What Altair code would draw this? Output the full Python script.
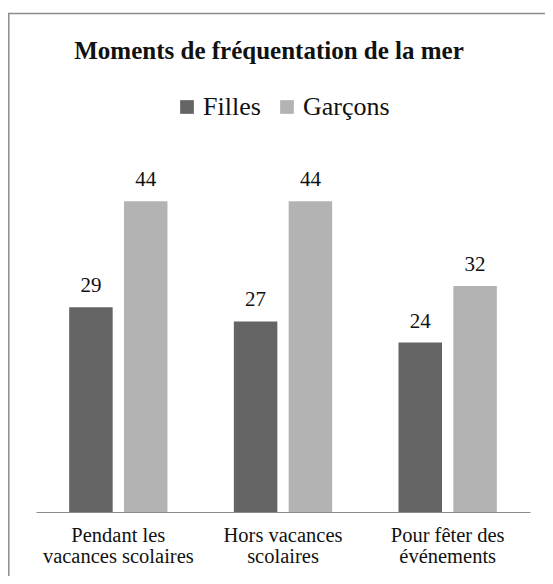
import altair as alt
import pandas as pd

categories = ["Pendant les\nvacances scolaires", "Hors vacances\nscolaires", "Pour fêter des\névénements"]
series = ["Filles", "Garçons"]
filles = [29, 27, 24]
garcons = [44, 44, 32]

rows = []
for c, f, g in zip(categories, filles, garcons):
    rows.append({"cat": c, "serie": "Filles", "val": f})
    rows.append({"cat": c, "serie": "Garçons", "val": g})
df = pd.DataFrame(rows)

FONT = "Liberation Serif"

x = alt.X("cat:N", sort=categories, title=None,
          scale=alt.Scale(paddingInner=0, paddingOuter=0),
          axis=alt.Axis(labelAngle=0, ticks=False, domainColor="#8c8c8c", domainWidth=1.2,
                        labelFont=FONT, labelFontSize=20.5, labelColor="#111111",
                        labelLineHeight=21.5, labelPadding=13, labelLimit=200,
                        labelExpr="split(datum.label, '\\n')", grid=False))
xo = alt.XOffset("serie:N", sort=series,
                 scale=alt.Scale(paddingInner=0.206, paddingOuter=0.605))
y = alt.Y("val:Q", scale=alt.Scale(domain=[0, 50], nice=False), axis=None)

bars = alt.Chart(df).mark_bar(size=43.5).encode(
    x=x, xOffset=xo, y=y,
    color=alt.Color("serie:N", sort=series,
                    scale=alt.Scale(domain=series, range=["#646464", "#b3b3b3"]),
                    legend=alt.Legend(title=None, orient="none", direction="horizontal",
                                      legendX=138, legendY=-65, symbolType="square",
                                      symbolSize=188, symbolStrokeWidth=0, labelOffset=3,
                                      columnPadding=13, labelFont=FONT, labelFontSize=26,
                                      labelColor="#111111", padding=0)),
)

labels = alt.Chart(df).mark_text(dy=-15, baseline="alphabetic", font=FONT, fontSize=21,
                                 color="#111111").encode(
    x=x, xOffset=xo, y=y, text="val:Q")

border = pd.DataFrame([{"k": 0}])
top_line = alt.Chart(border).mark_rule(color="#8c8c8c", strokeWidth=1.5).encode(
    x=alt.value(-28), x2=alt.value(509), y=alt.value(-145.5))
left_line = alt.Chart(border).mark_rule(color="#8c8c8c", strokeWidth=1.5).encode(
    x=alt.value(-27.2), y=alt.value(-146), y2=alt.value(420))

chart = alt.layer(bars, labels, top_line, left_line).properties(
    width=494, height=353,
    autosize=alt.AutoSizeParams(type="none"),
    padding={"left": 28, "top": 151, "right": 15, "bottom": 64},
    title=alt.TitleParams("Moments de fréquentation de la mer", font=FONT, fontSize=25,
                          fontWeight="bold", color="#111111", anchor="middle",
                          frame="group", dx=-14, offset=0, dy=72, baseline="alphabetic"),
).configure_view(stroke=None)

chart.save("out.html", embed_options={"renderer": "svg", "actions": False})
